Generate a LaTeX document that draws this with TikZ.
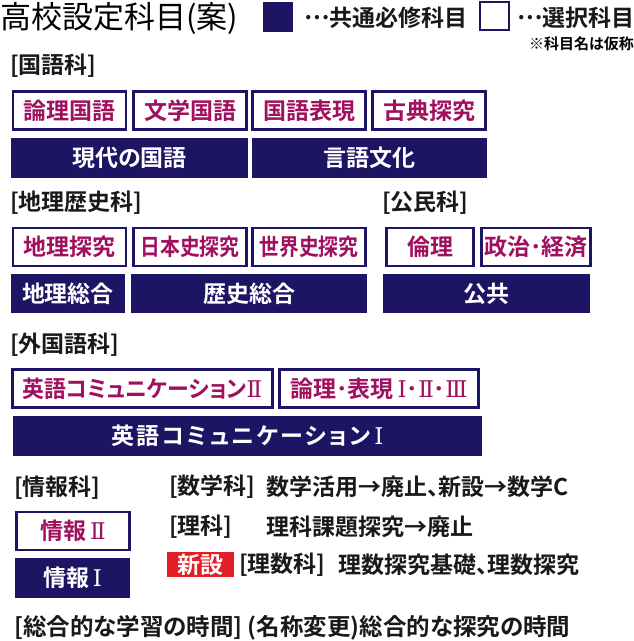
\documentclass[tikz,border=0pt]{standalone}
\usepackage{fontspec}
\setmainfont{Noto Sans CJK JP}[BoldFont={* Bold}, RawFeature=+palt]
\newfontfamily\romanfont{DejaVu Serif}
\definecolor{navy}{RGB}{30,20,100}
\definecolor{mag}{RGB}{160,16,95}
\definecolor{newred}{RGB}{228,30,38}
\newcommand{\fs}[1]{\fontsize{#1}{#1}\selectfont}
\newcommand{\rn}[1]{{\romanfont\mdseries #1}}
\newcommand{\mydots}{\raisebox{0.3em}{…}}
\newcommand{\narrow}{\addfontfeature{FakeStretch=0.86}}
\tikzset{
  selbox/.style={draw=navy, line width=2.6pt, fill=white, text=mag, font=\bfseries\fs{23}, inner sep=0pt},
  reqbox/.style={fill=navy, text=white, font=\bfseries\fs{23}, inner sep=0pt},
  lbl/.style={anchor=west, inner sep=0pt, font=\bfseries\fs{23}, text=black!90},
}
\begin{document}
\begin{tikzpicture}[x=1pt,y=-1pt]
\useasboundingbox (0,0) rectangle (634,641);
% header
\node[anchor=west, inner sep=0pt, font=\fs{31}] (title) at (0,18) {高校設定科目(案)};
\node[fill=navy, minimum width=30pt, minimum height=30pt, inner sep=0pt] (legreq) at (278,17) {};
\node[lbl] (legreqt) at (304,18) {\mydots 共通必修科目};
\node[draw=navy, line width=2.4pt, minimum width=29pt, minimum height=28pt, inner sep=0pt] (legsel) at (494.5,16) {};
\node[lbl] (legselt) at (517,18) {\mydots 選択科目};
\node[anchor=east, inner sep=0pt, font=\bfseries\fs{15}] (note) at (634,44) {※科目名は仮称};
% 国語
\node[lbl] (kokugo) at (10,66) {[国語科]};
\node[selbox, minimum width=113pt, minimum height=38pt] (k1) at (69.5,110.5) {論理国語};
\node[selbox, minimum width=113pt, minimum height=38pt] (k2) at (190,110.5) {文学国語};
\node[selbox, minimum width=113pt, minimum height=38pt] (k3) at (309,110.5) {国語表現};
\node[selbox, minimum width=113pt, minimum height=38pt] (k4) at (429,110.5) {古典探究};
\node[reqbox, minimum width=237pt, minimum height=40pt] (k5) at (129.5,158) {現代の国語};
\node[reqbox, minimum width=235pt, minimum height=40pt] (k6) at (369.5,158) {言語文化};
% 地理歴史
\node[lbl] (chireki) at (10,203) {[地理歴史科]};
\node[lbl] (koumin) at (382,203) {[公民科]};
\node[selbox, minimum width=113pt, minimum height=38pt] (c1) at (69.5,247) {地理探究};
\node[selbox, minimum width=113pt, minimum height=38pt] (c2) at (190,247) {\narrow 日本史探究};
\node[selbox, minimum width=113pt, minimum height=38pt] (c3) at (309,247) {\narrow 世界史探究};
\node[selbox, minimum width=87pt, minimum height=38pt] (c4) at (430,247) {倫理};
\node[selbox, minimum width=109pt, minimum height=38pt] (c5) at (536,247) {政治･経済};
\node[reqbox, minimum width=114pt, minimum height=39pt] (c6) at (68,293.5) {地理総合};
\node[reqbox, minimum width=236pt, minimum height=39pt] (c7) at (249,293.5) {歴史総合};
\node[reqbox, minimum width=207pt, minimum height=39pt] (c8) at (486.5,293.5) {公共};
% 外国語
\node[lbl] (gaikoku) at (10,345) {[外国語科]};
\node[selbox, minimum width=260pt, minimum height=38pt] (g1) at (142.5,388.5) {\addfontfeature{FakeStretch=0.95}英語コミュニケーション\rn{Ⅱ}};
\node[selbox, minimum width=199pt, minimum height=38pt] (g2) at (379,388.5) {論理･表現\,\rn{Ⅰ}･\rn{Ⅱ}･\rn{Ⅲ}};
\node[reqbox, minimum width=469pt, minimum height=40pt] (g3) at (247.5,436) {\addfontfeature{LetterSpace=10}英語コミュニケーション\,\rn{Ⅰ}};
% 情報
\node[lbl] (jouhou) at (14,488) {[情報科]};
\node[selbox, minimum width=113pt, minimum height=38pt] (j1) at (73,531) {情報\,\rn{Ⅱ}};
\node[reqbox, minimum width=115pt, minimum height=40pt] (j2) at (72.5,578) {情報\,\rn{Ⅰ}};
% others
\node[lbl] (suugaku) at (169,487) {[数学科]};
\node[lbl] (suugakut) at (266,487) {数学活用→廃止、新設→数学C};
\node[lbl] (rika) at (169,527) {[理科]};
\node[lbl] (rikat) at (266,527) {理科課題探究→廃止};
\node[fill=newred, text=white, font=\bfseries\fs{23}, minimum width=67pt, minimum height=25pt, inner sep=0pt] (shinsetsu) at (200.5,564.5) {新設};
\node[lbl] (risuu) at (239,565) {[理数科]};
\node[lbl] (risuut) at (338,565) {理数探究基礎、理数探究};
\node[lbl, font=\bfseries\fs{23.5}] (sougou) at (14,628) {[総合的な学習の時間] (名称変更)総合的な探究の時間};
\end{tikzpicture}
\end{document}
